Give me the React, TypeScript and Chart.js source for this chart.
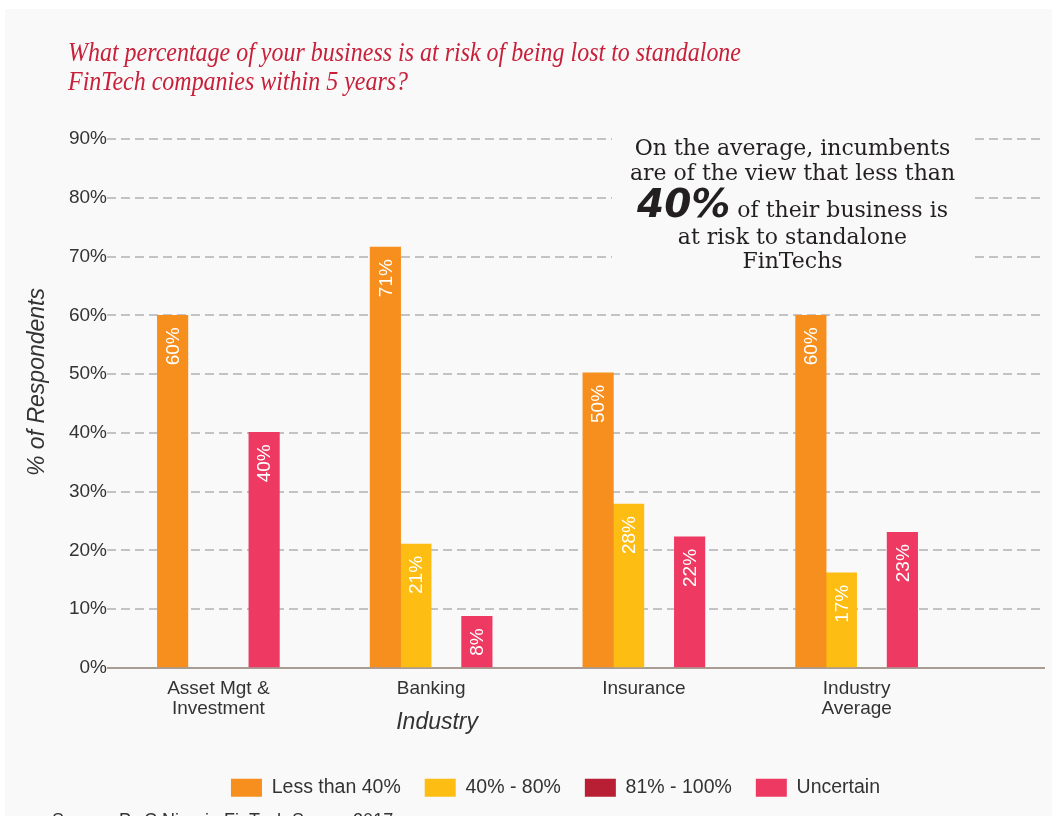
import React, { useEffect, useRef } from 'react';
import { Chart, registerables } from 'chart.js';

Chart.register(...registerables);

// ---------- data ----------
const categories: (string | string[])[] = [['Asset Mgt &', 'Investment'], 'Banking', 'Insurance', ['Industry', 'Average']];
const seriesNames = ['Less than 40%', '40% - 80%', '81% - 100%', 'Uncertain'];
const lessThan40 = [60.0, 71.6, 50.2, 60.0];
const from40to80 = [0, 21.1, 27.9, 16.2];
const from81to100 = [0, 0, 0, 0];
const uncertain = [40.1, 8.8, 22.3, 23.1];
const lessThan40Labels = ['60%', '71%', '50%', '60%'];
const from40to80Labels = ['', '21%', '28%', '17%'];
const from81to100Labels = ['', '', '', ''];
const uncertainLabels = ['40%', '8%', '22%', '23%'];
const yMin = 0;
const yMax = 90;
const yStep = 10;

const titleLines = [
  'What percentage of your business is at risk of being lost to standalone',
  'FinTech companies within 5 years?',
];
const xAxisTitle = 'Industry';
const yAxisTitle = '% of Respondents';
const noteLines = ['On the average, incumbents', 'are of the view that less than'];
const noteEmphasis = '40%';
const noteLine3Rest = ' of their business is';
const noteTail = ['at risk to standalone', 'FinTechs'];
const sourceText = 'Source: PwC Nigeria FinTech Survey 2017';

// ---------- styles ----------
const colors = ['#F68F1E', '#FDBD13', '#B81F34', '#EE3A62'];
const BG = '#f9f9f9';
const TEXT = '#333333';
const SANS = '"Liberation Sans", Arial, sans-serif';

const bgPlugin = {
  id: 'bgPlugin',
  beforeDraw(chart: any) {
    const ctx = chart.ctx;
    ctx.save();
    ctx.fillStyle = BG;
    ctx.fillRect(5, 9, chart.width - 5, chart.height - 9);
    ctx.restore();
  },
};

const shiftX = {
  id: 'shiftX',
  afterLayout(chart: any) {
    const x = chart.scales.x;
    const area = chart.chartArea;
    x.left = area.left + 5;
    x.right = area.right - 82;
    x.width = x.right - x.left;
    x.configure();
  },
};

const baseline = {
  id: 'baseline',
  beforeDatasetsDraw(chart: any) {
    const ctx = chart.ctx;
    const y = chart.scales.y.getPixelForValue(0);
    const a = chart.chartArea;
    ctx.save();
    ctx.strokeStyle = '#a89d95';
    ctx.lineWidth = 2;
    ctx.beginPath();
    ctx.moveTo(a.left, y);
    ctx.lineTo(a.right, y);
    ctx.stroke();
    ctx.restore();
  },
};

const valueLabels = {
  id: 'valueLabels',
  afterDatasetsDraw(chart: any) {
    const ctx = chart.ctx;
    chart.data.datasets.forEach((ds: any, di: number) => {
      const meta = chart.getDatasetMeta(di);
      meta.data.forEach((el: any, i: number) => {
        const txt = ds.valueLabels[i];
        if (!txt) return;
        ctx.save();
        ctx.translate(el.x, el.y + 12);
        ctx.rotate(-Math.PI / 2);
        ctx.textAlign = 'right';
        ctx.textBaseline = 'middle';
        ctx.fillStyle = '#ffffff';
        ctx.font = '19px ' + SANS;
        ctx.fillText(txt, 0, 1);
        ctx.restore();
      });
    });
  },
};

const decorations = {
  id: 'decorations',
  afterDraw(chart: any) {
    const ctx = chart.ctx;
    const x = chart.scales.x;
    ctx.save();

    // title
    ctx.fillStyle = '#c8203a';
    ctx.font = 'italic 27px "Liberation Serif", serif';
    ctx.textAlign = 'left';
    ctx.textBaseline = 'alphabetic';
    const w1 = ctx.measureText(titleLines[0]).width;
    const sx = 673 / w1;
    titleLines.forEach((t, i) => {
      ctx.save();
      ctx.translate(68, 61 + i * 29);
      ctx.scale(sx, 1);
      ctx.fillText(t, 0, 0);
      ctx.restore();
    });

    // note box (hides grid lines)
    ctx.fillStyle = BG;
    ctx.fillRect(612, 124, 363, 158);
    ctx.fillStyle = '#231f20';
    ctx.textAlign = 'center';
    const cx = 792.5;
    ctx.font = '22px "DejaVu Serif", serif';
    ctx.fillText(noteLines[0], cx, 155);
    ctx.fillText(noteLines[1], cx, 180);
    ctx.fillText(noteTail[0], cx, 244);
    ctx.fillText(noteTail[1], cx, 268);
    const bigFont = 'italic bold 39px "DejaVu Sans", sans-serif';
    const smallFont = '22px "DejaVu Serif", serif';
    ctx.font = bigFont;
    const wb = ctx.measureText(noteEmphasis).width;
    ctx.font = smallFont;
    const ws = ctx.measureText(noteLine3Rest).width;
    const start = cx - (wb + ws) / 2;
    ctx.textAlign = 'left';
    ctx.font = bigFont;
    ctx.fillText(noteEmphasis, start, 217);
    ctx.font = smallFont;
    ctx.fillText(noteLine3Rest, start + wb, 217);

    // axis titles
    ctx.fillStyle = TEXT;
    ctx.font = 'italic 23px ' + SANS;
    ctx.textAlign = 'center';
    ctx.textBaseline = 'middle';
    const midX = (x.getPixelForValue(0) + x.getPixelForValue(2)) / 2 + 6;
    ctx.fillText(xAxisTitle, midX, 723);
    ctx.save();
    ctx.translate(38, 382);
    ctx.rotate(-Math.PI / 2);
    ctx.fillText(yAxisTitle, 0, 0);
    ctx.restore();

    // source
    ctx.textAlign = 'left';
    ctx.textBaseline = 'alphabetic';
    ctx.font = '18px ' + SANS;
    ctx.fillText(sourceText, 52, 826);

    ctx.restore();
  },
};

export default function App() {
  const ref = useRef<HTMLCanvasElement | null>(null);

  useEffect(() => {
    if (!ref.current) return;
    const series = [lessThan40, from40to80, from81to100, uncertain];
    const labelSets = [lessThan40Labels, from40to80Labels, from81to100Labels, uncertainLabels];
    const chart = new Chart(ref.current, {
      type: 'bar',
      data: {
        labels: categories,
        datasets: series.map((d, i) => ({
          label: seriesNames[i],
          data: d,
          backgroundColor: colors[i],
          borderWidth: 0,
          barThickness: 30.5,
          inflateAmount: (c: any) => (c.raw === 0 ? 0 : 'auto'),
          valueLabels: labelSets[i],
        })) as any,
      },
      options: {
        responsive: false,
        maintainAspectRatio: false,
        animation: false,
        layout: { padding: { top: 139, left: 66, right: 7, bottom: 8.5 } },
        plugins: {
          title: { display: false },
          tooltip: { enabled: false },
          legend: {
            position: 'bottom',
            labels: {
              boxWidth: 31,
              boxHeight: 18,
              padding: 24,
              color: TEXT,
              font: { family: SANS, size: 19.5 },
            },
          },
        },
        scales: {
          x: {
            offset: true,
            grid: { display: false },
            border: { display: false },
            ticks: {
              color: TEXT,
              padding: 3,
              font: { family: SANS, size: 19, lineHeight: '20px' },
              maxRotation: 0,
              autoSkip: false,
            },
            afterFit(scale: any) {
              scale.height = 86;
            },
          },
          y: {
            min: yMin,
            max: yMax,
            grid: {
              drawTicks: false,
              lineWidth: 2,
              color: (c: any) => (c.tick && c.tick.value === 0 ? 'rgba(0,0,0,0)' : '#c3c3c7'),
            },
            border: { display: false, dash: [9, 5] },
            ticks: {
              stepSize: yStep,
              padding: 0,
              color: TEXT,
              font: { family: SANS, size: 19 },
              callback: (v: any) => v + '%',
            },
            afterFit(scale: any) {
              scale.width = 41;
            },
          },
        },
      } as any,
      plugins: [bgPlugin, shiftX, baseline, valueLabels, decorations],
    });
    return () => chart.destroy();
  }, []);

  return (
    <div style={{ position: 'absolute', left: 0, top: 0, width: 1052, height: 816, overflow: 'hidden' }}>
      <canvas ref={ref} width={1052} height={816} style={{ display: 'block', width: 1052, height: 816 }} />
    </div>
  );
}
